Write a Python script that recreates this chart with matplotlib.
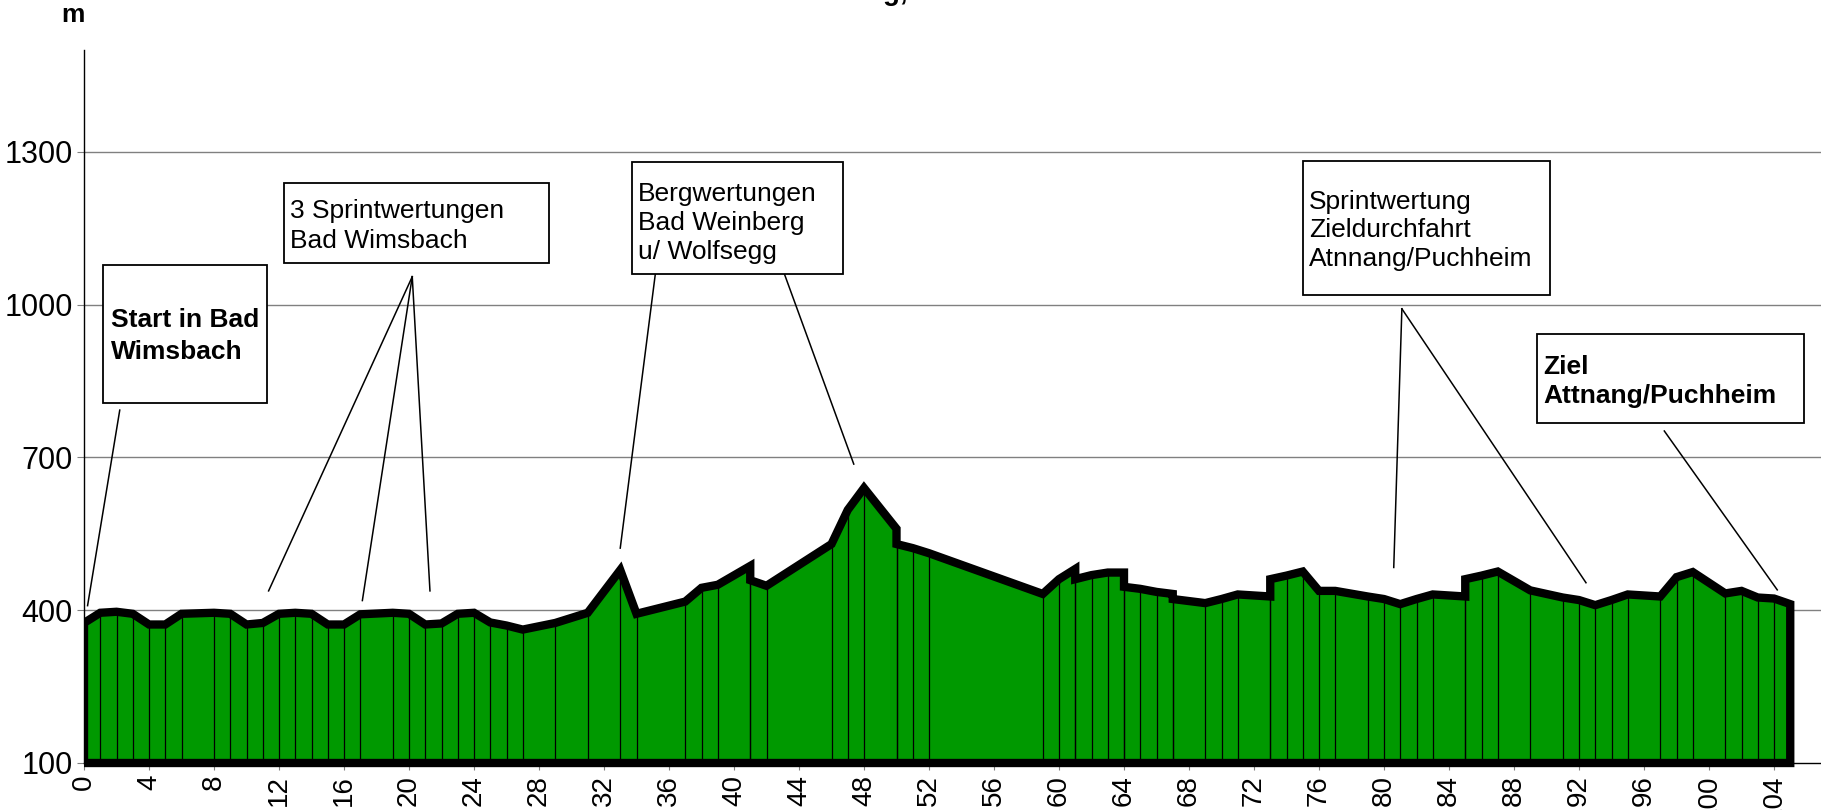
#!/usr/bin/env python
"""Streckenprofil Bad Wimsbach - Attnang/Puchheim (Höhenprofil mit Wertungen)."""

import matplotlib

matplotlib.use("Agg")
import matplotlib.pyplot as plt
from matplotlib.patches import Polygon, Rectangle
from matplotlib.transforms import offset_copy

plt.rcParams["font.family"] = ["Liberation Sans", "DejaVu Sans"]

# profile: distance in km and elevation in m (duplicate km = vertical step)
km = [0, 1, 2, 3, 4, 5, 6, 8, 9, 10, 11, 12, 13, 14, 15, 16, 17, 19, 20, 21,
      22, 23, 24, 25, 26, 27, 29, 31, 33, 34, 37, 38, 39, 41, 41, 42, 46, 47,
      48, 50, 50, 51, 52, 59, 60, 61, 61, 62, 63, 64, 64, 65, 66, 67, 67, 69,
      70, 71, 73, 73, 74, 75, 76, 77, 79, 80, 81, 82, 83, 85, 85, 86, 87, 89,
      91, 92, 93, 94, 95, 97, 98, 99, 101, 102, 103, 104, 105]
elevation = [375, 395, 397, 393, 372, 372, 393, 395, 393, 372, 375, 393, 395,
             393, 372, 372, 392, 395, 393, 372, 374, 393, 395, 376, 370, 362,
             375, 395, 479, 393, 417, 444, 450, 487, 459, 448, 530, 597, 640,
             560, 530, 522, 512, 432, 461, 481, 461, 469, 474, 474, 446, 442,
             436, 432, 422, 414, 422, 431, 427, 461, 468, 476, 438, 438, 427,
             422, 412, 422, 431, 427, 461, 468, 476, 439, 425, 420, 410, 420,
             431, 427, 465, 475, 433, 438, 425, 423, 412]

y_ticks = [100, 400, 700, 1000, 1300]
x_ticks = list(range(0, 105, 4))
x_tick_labels = [str(v) for v in x_ticks]

# callout boxes
box_lines = [
    ["Start in Bad", "Wimsbach"],
    ["3 Sprintwertungen", "Bad Wimsbach"],
    ["Bergwertungen", "Bad Weinberg", "u/ Wolfsegg"],
    ["Sprintwertung", "Zieldurchfahrt", "Atnnang/Puchheim"],
    ["Ziel", "Attnang/Puchheim"],
]
box_bold = [True, False, False, False, True]
box_x = [(1.17, 11.26), (12.31, 28.62), (33.72, 46.71), (75.02, 90.22), (89.42, 105.85)]
box_y = [(807, 1078), (1082, 1239), (1060, 1280), (1019, 1282), (768, 942)]
text_x = [1.65, 12.68, 34.1, 75.38, 89.8]
text_y = [956, 1171, 1204, 1188, 864]
line_gap_pt = [23.0, 21.6, 20.9, 20.5, 20.9]

# leader lines: (from km, from m, to km, to m)
leaders = [
    (2.2, 793, 0.22, 409),
    (20.2, 1055, 11.36, 438),
    (20.2, 1055, 17.13, 419),
    (20.2, 1055, 21.29, 438),
    (35.45, 1133, 33.0, 522),
    (42.9, 1078, 47.37, 687),
    (81.1, 992, 80.6, 484),
    (81.1, 992, 92.43, 454),
    (97.25, 752, 104.2, 440),
]

W, H = 1821, 810
fig = plt.figure(figsize=(W / 100, H / 100), dpi=100)
ax = fig.add_axes([84 / W, 47 / H, 1755 / W, 712.9 / H])
ax.set_xlim(0, 108)
ax.set_ylim(100, 1500)

for v in y_ticks[1:]:
    ax.axhline(v, color="#808080", lw=1.0, zorder=0)

# filled profile with thick outline
base = y_ticks[0]
pts = [(km[0], base)] + list(zip(km, elevation)) + [(km[-1], base)]
poly = Polygon(pts, closed=True, facecolor="#009900", edgecolor="black",
               lw=6, joinstyle="miter", zorder=3)
ax.add_patch(poly)
clip = Rectangle((0, -0.1), 1.2, 1.3, transform=ax.transAxes, visible=False)
ax.add_patch(clip)
poly.set_clip_path(clip)
ax.vlines(km, base, elevation, color="black", lw=0.9, zorder=3.5)

for x0, y0, x1, y1 in leaders:
    ax.plot([x0, x1], [y0, y1], color="black", lw=1.1, zorder=4)

for lines, bold, (bx0, bx1), (by0, by1), tx, ty, gap in zip(
        box_lines, box_bold, box_x, box_y, text_x, text_y, line_gap_pt):
    ax.add_patch(Rectangle((bx0, by0), bx1 - bx0, by1 - by0, facecolor="white",
                           edgecolor="black", lw=1.3, zorder=5, clip_on=False))
    for i, line in enumerate(lines):
        tr = offset_copy(ax.transData, fig=fig, x=0, y=-i * gap, units="points")
        ax.text(tx, ty, line, transform=tr, fontsize=19,
                fontweight="bold" if bold else "normal",
                ha="left", va="baseline", zorder=6, clip_on=False)

ax.set_xticks(x_ticks)
ax.set_xticklabels(x_tick_labels, rotation=90, va="top", ha="center")
ax.set_yticks(y_ticks)
ax.tick_params(axis="both", length=5, width=0.8, color="#808080")
ax.tick_params(axis="x", labelsize=20, pad=3.5)
ax.tick_params(axis="y", labelsize=22, pad=3)
for side in ("top", "right"):
    ax.spines[side].set_visible(False)
ax.spines["left"].set_linewidth(1.0)
ax.spines["bottom"].set_linewidth(1.0)

fig.text(61 / W, 1 - 22 / H, "m", fontsize=19, fontweight="bold",
         ha="left", va="baseline")
fig.text(908 / W, 1.0, "Bad Wimsbach - Attnang,", fontsize=20,
         fontweight="bold", ha="right", va="baseline")

fig.savefig("out.png", dpi=100)
